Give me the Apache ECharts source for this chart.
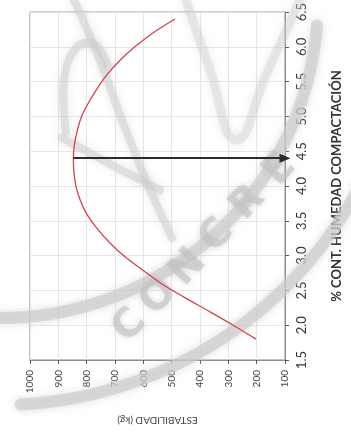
<!DOCTYPE html>
<html>
<head>
<meta charset="utf-8">
<script src="https://cdn.jsdelivr.net/npm/echarts@6/dist/echarts.min.js"></script>
<style>
  html, body { margin: 0; padding: 0; background: #ffffff; }
  #chart { width: 351px; height: 435px; }
</style>
</head>
<body>
<div id="chart"></div>
<script>
// Compaction moisture content (%) and the stability read on the curve (kg)
const humedad = [1.8, 2.0, 2.2, 2.4, 2.6, 2.8, 3.0, 3.2, 3.4, 3.6, 3.8, 4.0, 4.2, 4.4, 4.6, 4.8, 5.0, 5.2, 5.4, 5.6, 5.8, 6.0, 6.2, 6.4];
const estabilidad = [202, 283, 368, 455, 537, 605, 670, 722, 765, 800, 823, 838, 845, 847, 843, 833, 818, 793, 763, 728, 684, 630, 566, 488];

// Optimum moisture marker
const optimoHumedad = 4.4;
const optimoEstabilidad = 847;

// Axis ranges
const humedadMin = 1.5, humedadMax = 6.5, humedadPaso = 0.5;
const estabMin = 100, estabMax = 1000, estabPaso = 100;

// Stamp lettering in the background
const selloLetras = ['C', 'O', 'N', 'C', 'R', 'E'];

const chart = echarts.init(document.getElementById('chart'), null, { renderer: 'canvas' });

const curva = humedad.map((h, i) => [estabilidad[i], h]);

const FONT = 'Lato, "Open Sans", sans-serif';
const SELLO_GRIS = '#cacaca';

// background stamp: ring bands, inner emblem strokes and lettering
const sello = [];
function banda(shape, type, width, opacity) {
  sello.push({
    type: type, z: 1, silent: true, shape: shape,
    style: {
      stroke: SELLO_GRIS, lineWidth: width, fill: null, opacity: opacity,
      shadowBlur: 8, shadowColor: SELLO_GRIS, lineCap: 'round', lineJoin: 'round'
    }
  });
}
banda({ cx: 0, cy: 0, r: 318, startAngle: 0.08, endAngle: 1.62 }, 'arc', 12, 0.6);
banda({ cx: 0, cy: 0, r: 405, startAngle: 0.38, endAngle: 1.52 }, 'arc', 12, 0.6);
banda({ points: [[74, 0], [98, 55], [122, 120], [148, 185], [172, 238]], smooth: 0.3 }, 'polyline', 8, 0.45);
banda({ points: [[66, 132], [64, 80], [76, 48], [94, 44], [108, 66]], smooth: 0.4 }, 'polyline', 8, 0.45);
banda({ points: [[62, 138], [110, 164], [160, 190]], smooth: 0.3 }, 'polyline', 8, 0.45);
banda({ points: [[186, 0], [210, 70], [236, 140], [266, 75], [300, 0]], smooth: 0.5 }, 'polyline', 9, 0.35);

const selloPos = [[130, 326], [159, 297], [188, 268], [217, 236], [248, 203], [280, 170]];
selloLetras.forEach((ch, i) => {
  sello.push({
    type: 'text', z: 1, silent: true,
    x: selloPos[i][0], y: selloPos[i][1], rotation: 0.82,
    style: {
      text: ch, fill: '#c2c2c2', opacity: 0.6,
      font: 'bold 40px "DejaVu Sans", sans-serif',
      align: 'center', verticalAlign: 'middle',
      textShadowBlur: 6, textShadowColor: '#c2c2c2'
    }
  });
});

chart.setOption({
  animation: false,
  backgroundColor: '#ffffff',
  graphic: sello,
  grid: {
    left: 30, right: 64, top: 3, bottom: 75,
    show: true, borderColor: '#8c8c8c', borderWidth: 1, backgroundColor: 'transparent'
  },
  xAxis: {
    type: 'value',
    min: estabMin, max: estabMax, interval: estabPaso,
    inverse: true,
    position: 'bottom',
    name: 'ESTABILIDAD (kg)',
    nameLocation: 'middle',
    nameGap: 55,
    nameRotate: 180,
    nameTextStyle: { color: '#444', fontSize: 10, fontFamily: FONT },
    axisLine: { show: true, lineStyle: { color: '#8c8c8c', width: 1 } },
    axisTick: { show: true, length: 4, lineStyle: { color: '#555' } },
    axisLabel: {
      rotate: 90, margin: 10, color: '#444', fontSize: 10, fontFamily: FONT,
      formatter: v => String(v)
    },
    splitLine: { show: true, lineStyle: { color: '#e6e6e6', width: 1 } }
  },
  yAxis: {
    type: 'value',
    min: humedadMin, max: humedadMax, interval: humedadPaso,
    position: 'right',
    name: '% CONT. HUMEDAD COMPACTACIÓN',
    nameLocation: 'middle',
    nameGap: 45,
    nameRotate: 90,
    nameTextStyle: { color: '#333', fontSize: 13, fontWeight: 'bold', fontFamily: FONT },
    axisLine: { show: true, lineStyle: { color: '#8c8c8c', width: 1 } },
    axisTick: { show: true, length: 4, lineStyle: { color: '#555' } },
    axisLabel: {
      rotate: 90, margin: 10, color: '#333', fontSize: 13, fontFamily: FONT,
      formatter: v => v.toFixed(1)
    },
    splitLine: { show: true, lineStyle: { color: '#e6e6e6', width: 1 } }
  },
  series: [
    {
      type: 'line',
      data: curva,
      smooth: 0.35,
      showSymbol: false,
      z: 3,
      lineStyle: { color: '#d8404c', width: 1.3 },
      markLine: {
        silent: true,
        symbol: ['none', 'triangle'],
        symbolSize: [9, 11],
        label: { show: false },
        lineStyle: { color: '#2b2b2b', width: 2.2, type: 'solid' },
        data: [[
          { coord: [optimoEstabilidad, optimoHumedad] },
          { coord: [estabMin, optimoHumedad] }
        ]]
      }
    }
  ]
});
</script>
</body>
</html>
